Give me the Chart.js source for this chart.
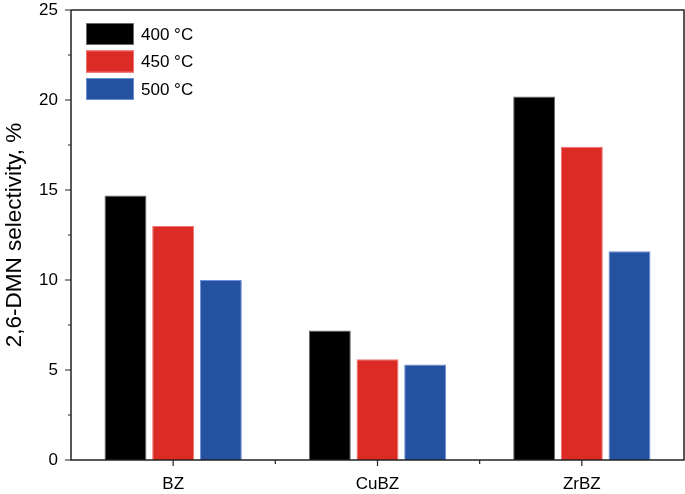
<!DOCTYPE html>
<html>
<head>
<meta charset="utf-8">
<script src="https://cdn.jsdelivr.net/npm/chart.js@4"></script>
<style>
html,body{margin:0;padding:0;background:#fff;}
#wrap{width:685px;height:494px;position:relative;}
</style>
</head>
<body>
<div id="wrap"><canvas id="c" width="685" height="494"></canvas></div>
<script>
const categories = ['BZ', 'CuBZ', 'ZrBZ'];
const seriesLabels = ['400 °C', '450 °C', '500 °C'];
const values400 = [14.7, 7.2, 20.2];
const values450 = [13.0, 5.6, 17.4];
const values500 = [10.0, 5.3, 11.6];
const yTicks = [0, 5, 10, 15, 20, 25];
const yMinorTicks = [2.5, 7.5, 12.5, 17.5, 22.5];

const fill = ['#000000', '#DC2B25', '#2551A1'];
const edge = ['#6a6a6a', '#F07070', '#6C8FD8'];
const FONT = '"Liberation Sans", Arial, sans-serif';

const frameAndTicks = {
  id: 'frameAndTicks',
  afterDraw(chart) {
    const ctx = chart.ctx;
    const a = chart.chartArea;
    const ys = chart.scales.y, xs = chart.scales.x;
    ctx.save();
    ctx.strokeStyle = '#222';
    ctx.lineWidth = 1.5;
    ctx.beginPath();
    ctx.moveTo(a.left, a.top); ctx.lineTo(a.left, a.bottom);
    ctx.lineTo(a.right, a.bottom); ctx.lineTo(a.right, a.top);
    ctx.lineTo(a.left, a.top);
    ctx.stroke();
    ctx.lineWidth = 1.2;
    ctx.beginPath();
    yTicks.forEach(v => { const p = ys.getPixelForValue(v); ctx.moveTo(a.left - 6, p); ctx.lineTo(a.left, p); });
    yMinorTicks.forEach(v => { const p = ys.getPixelForValue(v); ctx.moveTo(a.left - 3, p); ctx.lineTo(a.left, p); });
    categories.forEach((c, i) => { const p = xs.getPixelForValue(i); ctx.moveTo(p, a.bottom); ctx.lineTo(p, a.bottom + 6); });
    for (let i = 0; i < categories.length - 1; i++) {
      const p = (xs.getPixelForValue(i) + xs.getPixelForValue(i + 1)) / 2;
      ctx.moveTo(p, a.bottom); ctx.lineTo(p, a.bottom + 4);
    }
    ctx.stroke();
    // legend
    ctx.font = '17px ' + FONT;
    ctx.textBaseline = 'middle';
    chart.data.datasets.forEach((ds, i) => {
      const x = a.left + 15, y = a.top + 13 + i * 27.5;
      ctx.fillStyle = ds.backgroundColor;
      ctx.fillRect(x, y, 48, 22);
      ctx.strokeStyle = ds.borderColor;
      ctx.lineWidth = 1;
      ctx.strokeRect(x + 0.5, y + 0.5, 47, 21);
      ctx.fillStyle = '#000';
      ctx.fillText(ds.label, x + 55, y + 12);
    });
    ctx.restore();
  }
};

const data = {
  labels: categories,
  datasets: [values400, values450, values500].map((vals, i) => ({
    label: seriesLabels[i],
    data: vals,
    backgroundColor: fill[i],
    borderColor: edge[i],
    borderWidth: 1,
    categoryPercentage: 0.7,
    barPercentage: 0.88
  }))
};

new Chart(document.getElementById('c'), {
  type: 'bar',
  data,
  options: {
    responsive: false,
    animation: false,
    layout: { padding: { top: 0, right: 1, left: 0, bottom: 0 } },
    plugins: { legend: { display: false }, tooltip: { enabled: false } },
    scales: {
      x: {
        grid: { display: false, drawTicks: false },
        border: { display: false },
        ticks: { color: '#000', padding: 14, font: { size: 17, family: FONT } },
        afterFit(s) { s.height = 34; }
      },
      y: {
        min: 0, max: 25,
        afterBuildTicks(s) { s.ticks = yTicks.map(v => ({ value: v })); },
        grid: { display: false, drawTicks: false },
        border: { display: false },
        ticks: { color: '#000', padding: 13, font: { size: 17, family: FONT } },
        title: { display: true, text: '2,6-DMN selectivity, %', color: '#000', padding: { top: 1, bottom: 0 }, font: { size: 22.5, family: FONT } },
        afterFit(s) { s.width = 71; s.paddingTop = 10; s.paddingBottom = 10; }
      }
    }
  },
  plugins: [frameAndTicks]
});
</script>
</body>
</html>
